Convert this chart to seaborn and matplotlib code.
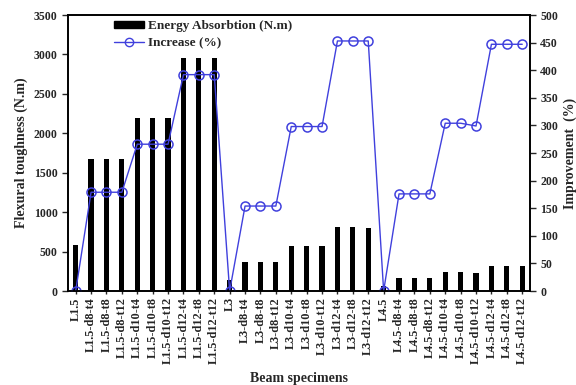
import matplotlib
matplotlib.use("Agg")
import matplotlib.pyplot as plt
import seaborn as sns
from matplotlib.patches import Patch
from matplotlib.lines import Line2D

sns.set_theme(style="ticks")
plt.rcParams["font.family"] = ["Liberation Serif", "DejaVu Serif"]
plt.rcParams["font.weight"] = "bold"

specimens = [
    "L1.5", "L1.5-d8-t4", "L1.5-d8-t8", "L1.5-d8-t12",
    "L1.5-d10-t4", "L1.5-d10-t8", "L1.5-d10-t12",
    "L1.5-d12-t4", "L1.5-d12-t8", "L1.5-d12-t12",
    "L3", "L3-d8-t4", "L3-d8-t8", "L3-d8-t12",
    "L3-d10-t4", "L3-d10-t8", "L3-d10-t12",
    "L3-d12-t4", "L3-d12-t8", "L3-d12-t12",
    "L4.5", "L4.5-d8-t4", "L4.5-d8-t8", "L4.5-d8-t12",
    "L4.5-d10-t4", "L4.5-d10-t8", "L4.5-d10-t12",
    "L4.5-d12-t4", "L4.5-d12-t8", "L4.5-d12-t12",
]
energy = [
    590, 1670, 1670, 1670, 2190, 2190, 2190, 2950, 2955, 2955,
    145, 370, 370, 370, 575, 575, 575, 808, 808, 800,
    58, 161, 161, 161, 237, 237, 230, 321, 321, 321,
]
improvement = [
    0, 179, 179, 179, 266, 266, 266, 392, 392, 392,
    0, 154, 154, 154, 298, 298, 298, 453, 453, 453,
    0, 176, 176, 176, 304, 304, 299, 447, 447, 447,
]

line_color = "#4040dd"

fig = plt.figure(figsize=(5.76, 3.85), dpi=100)
ax = fig.add_axes([0.118, 0.244, 0.802, 0.717])

sns.barplot(x=specimens, y=energy, color="black", width=0.34,
            saturation=1, linewidth=0, ax=ax)
ax.set_xlim(-0.5, 29.5)
ax.set_ylim(0, 3500)
ax.set_yticks(range(0, 3501, 500))
ax.tick_params(axis="x", labelrotation=90, labelsize=8.8, direction="inout",
               length=5, width=1, pad=2)
ax.tick_params(axis="y", labelsize=8.5, direction="out", length=4, width=1)
for lab in ax.get_xticklabels() + ax.get_yticklabels():
    lab.set_fontweight("bold")
ax.set_ylabel("Flexural toughness (N.m)", fontsize=10, fontweight="bold")
ax.set_xlabel("Beam specimens", fontsize=10, fontweight="bold")
ax.xaxis.set_label_coords(0.5, -0.295)
for s in ax.spines.values():
    s.set_linewidth(1.2)
    s.set_color("black")

ax2 = ax.twinx()
sns.lineplot(x=specimens, y=improvement, sort=False, ax=ax2, color=line_color,
             linewidth=1, marker="o", markersize=6.5, markerfacecolor="none",
             markeredgecolor=line_color, markeredgewidth=1.1)
ax2.set_ylim(0, 500)
ax2.set_yticks(range(0, 501, 50))
ax2.tick_params(axis="y", labelsize=8.5, direction="out", length=4, width=1)
for lab in ax2.get_yticklabels():
    lab.set_fontweight("bold")
ax2.set_ylabel("Improvement  (%)", fontsize=10, fontweight="bold")
for s in ax2.spines.values():
    s.set_linewidth(1.2)
    s.set_color("black")

handles = [
    Patch(facecolor="black", edgecolor="black", label="Energy Absorbtion (N.m)"),
    Line2D([], [], color=line_color, linewidth=1, marker="o", markersize=6,
           markerfacecolor="none", markeredgecolor=line_color,
           label="Increase (%)"),
]
leg = ax2.legend(handles=handles, loc="upper left", bbox_to_anchor=(0.088, 1.0),
                 frameon=False, fontsize=9.5, handlelength=2.3,
                 handleheight=0.5, labelspacing=0.35, handletextpad=0.3,
                 borderaxespad=0)
for t in leg.get_texts():
    t.set_fontweight("bold")

fig.savefig("out.png", dpi=100)
